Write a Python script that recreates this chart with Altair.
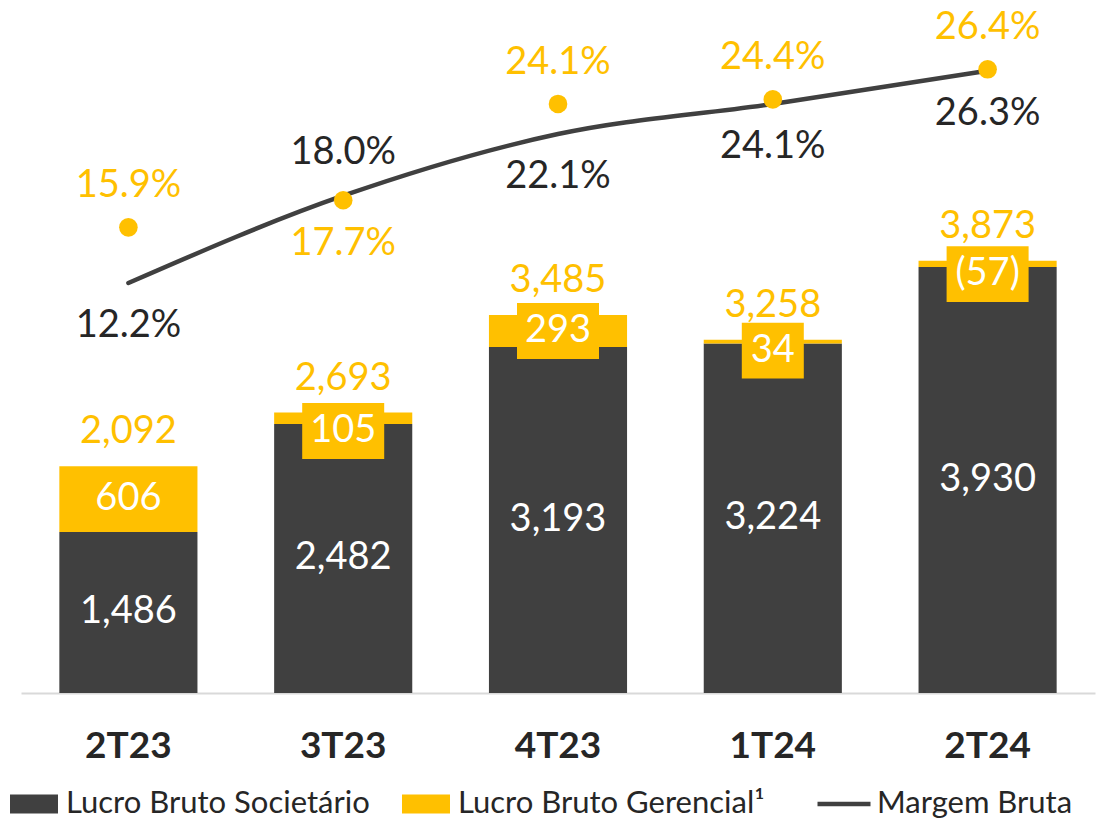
import altair as alt
import pandas as pd

# ---- data ----
periodos = ["2T23", "3T23", "4T23", "1T24", "2T24"]
lucro_societario = [1486, 2482, 3193, 3224, 3930]
ajuste_gerencial = [606, 105, 293, 34, -57]
lucro_gerencial = [2092, 2693, 3485, 3258, 3873]
margem_bruta = [12.2, 18.0, 22.1, 24.1, 26.3]
margem_gerencial = [15.9, 17.7, 24.1, 24.4, 26.4]
pos_margem_bruta = ["below", "above", "below", "below", "below"]
pos_margem_gerencial = ["above", "below", "above", "above", "above"]

SOC = "Lucro Bruto Societário"
GER = "Lucro Bruto Gerencial¹"
MB = "Margem Bruta"

DARK = "#404040"
GOLD = "#FFC000"
TEXT = "#262626"
FONT = "Lato"
FS = 38

df = pd.DataFrame({
    "periodo": periodos,
    "soc": lucro_societario,
    "adj": ajuste_gerencial,
    "ger": lucro_gerencial,
    "mb": margem_bruta,
    "mg": margem_gerencial,
    "pos_mb": pos_margem_bruta,
    "pos_mg": pos_margem_gerencial,
})

bars_long = pd.DataFrame({
    "periodo": periodos * 2,
    "serie": [SOC] * len(periodos) + [GER] * len(periodos),
    "ordem": [0] * len(periodos) + [1] * len(periodos),
    "valor": lucro_societario + [abs(v) for v in ajuste_gerencial],
})

X = alt.X(
    "periodo:N", sort=periodos, title=None,
    scale=alt.Scale(paddingInner=0.357, paddingOuter=0.1785),
    axis=alt.Axis(labelAngle=0, labelFontSize=37, labelFontWeight="bold",
                  labelColor=TEXT, labelFont=FONT, ticks=False, labelPadding=35,
                  domainColor="#D9D9D9", domainWidth=2, grid=False),
)
bar_scale = alt.Scale(domain=[0, 6227])
mar_scale = alt.Scale(domain=[-15.04, 29.81])

legend_common = dict(
    orient="none", direction="horizontal", labelFontSize=31, labelFont=FONT,
    labelColor=TEXT, labelLimit=600, padding=0,
)

bars = alt.Chart(bars_long).mark_bar().encode(
    x=X,
    y=alt.Y("valor:Q", stack="zero", scale=bar_scale, axis=None),
    color=alt.Color(
        "serie:N", title=None,
        scale=alt.Scale(domain=[SOC, GER], range=[DARK, GOLD]),
        legend=alt.Legend(symbolType="M-1,-0.4L1,-0.4L1,0.4L-1,0.4Z",
                          symbolSize=2304, symbolStrokeWidth=0, legendX=-11,
                          legendY=762, labelOffset=8, columnPadding=32,
                          **legend_common),
    ),
    order=alt.Order("ordem:Q"),
)

base = alt.Chart(df)

soc_labels = base.transform_calculate(ymid="datum.soc / 2").mark_text(
    color="white", fontSize=FS, font=FONT
).encode(x=X, y=alt.Y("ymid:Q", scale=bar_scale, axis=None),
         text=alt.Text("soc:Q", format=","))

adj_base = base.transform_calculate(
    labpos="abs(datum.adj) > 200 ? datum.soc + abs(datum.adj) / 2 : datum.soc - 65",
    lab="datum.adj < 0 ? '(' + format(-datum.adj, ',') + ')' : format(datum.adj, ',')",
)

box_wide = adj_base.transform_filter("length(datum.lab) != 2").mark_point(
    shape="M-1,-0.68L1,-0.68L1,0.68L-1,0.68Z", size=6724, filled=True,
    color=GOLD, opacity=1, strokeWidth=0,
).encode(x=X, y=alt.Y("labpos:Q", scale=bar_scale, axis=None))

box_narrow = adj_base.transform_filter("length(datum.lab) == 2").mark_point(
    shape="M-1,-0.9L1,-0.9L1,0.9L-1,0.9Z", size=3844, filled=True,
    color=GOLD, opacity=1, strokeWidth=0,
).encode(x=X, y=alt.Y("labpos:Q", scale=bar_scale, axis=None))

adj_labels = adj_base.mark_text(color="white", fontSize=FS, font=FONT).encode(
    x=X, y=alt.Y("labpos:Q", scale=bar_scale, axis=None), text="lab:N"
)

tot_labels = base.transform_calculate(top="datum.soc + abs(datum.adj)").mark_text(
    color=GOLD, fontSize=FS, font=FONT, dy=-34
).encode(x=X, y=alt.Y("top:Q", scale=bar_scale, axis=None),
         text=alt.Text("ger:Q", format=","))

bar_layer = alt.layer(bars, soc_labels, box_wide, box_narrow, adj_labels, tot_labels)

line = base.transform_calculate(serie="'Margem Bruta'").mark_line(
    interpolate="monotone", strokeWidth=4.5, strokeCap="round"
).encode(
    x=X,
    y=alt.Y("mb:Q", scale=mar_scale, axis=None),
    stroke=alt.Stroke(
        "serie:N", title=None,
        scale=alt.Scale(domain=[MB], range=[DARK]),
        legend=alt.Legend(symbolType="stroke", symbolSize=2809,
                          symbolStrokeWidth=4.5, symbolStrokeColor=DARK,
                          legendX=794, legendY=757, labelOffset=4,
                          **legend_common),
    ),
)

dots = base.mark_circle(size=346, color=GOLD, opacity=1).encode(
    x=X, y=alt.Y("mg:Q", scale=mar_scale, axis=None)
)

def mlabels(field, posfield, where, color, dy):
    return base.transform_filter(f"datum.{posfield} == '{where}'").transform_calculate(
        txt=f"format(datum.{field}, '.1f') + '%'"
    ).mark_text(color=color, fontSize=FS, font=FONT, dy=dy).encode(
        x=X, y=alt.Y(f"{field}:Q", scale=mar_scale, axis=None), text="txt:N"
    )

mar_layer = alt.layer(
    line, dots,
    mlabels("mb", "pos_mb", "above", TEXT, -43),
    mlabels("mb", "pos_mb", "below", TEXT, 43),
    mlabels("mg", "pos_mg", "above", GOLD, -41),
    mlabels("mg", "pos_mg", "below", GOLD, 44),
)

chart = alt.layer(bar_layer, mar_layer).resolve_scale(y="independent").properties(
    width=1074, height=675,
    autosize=alt.AutoSizeParams(type="none"),
    padding={"left": 13, "right": 16, "top": 10, "bottom": 126},
).configure(font=FONT).configure_view(stroke=None)

chart.save("out.html", embed_options={"renderer": "svg", "actions": False})
